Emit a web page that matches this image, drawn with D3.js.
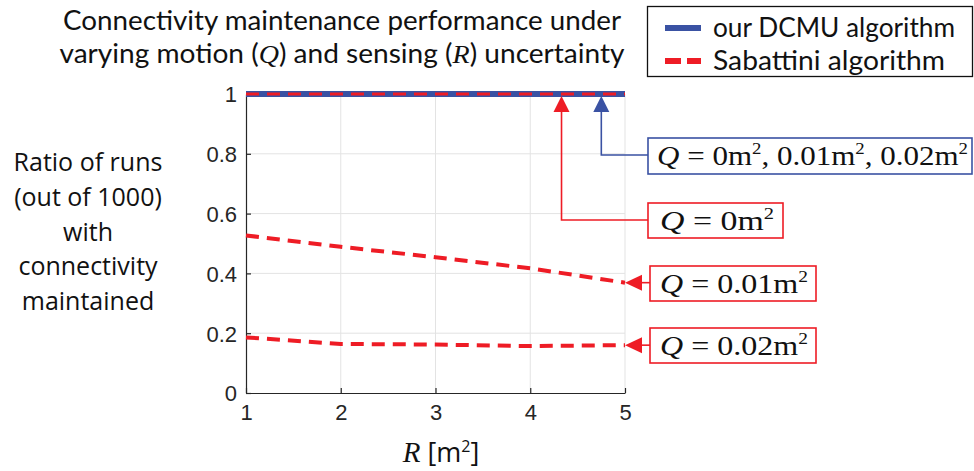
<!DOCTYPE html>
<html>
<head>
<meta charset="utf-8">
<script src="https://cdn.jsdelivr.net/npm/d3@7"></script>
<style>
  body { margin: 0; background: #fff; }
  svg { display: block; }
</style>
</head>
<body>
<svg id="chart" width="974" height="471"></svg>
<script>
// Connectivity ratio vs sensing uncertainty R, for each algorithm / Q

const R = [1, 2, 3, 4, 5];
const dcmuAllQ = [1, 1, 1, 1, 1];
const sabQ0 = [1, 1, 1, 1, 1];
const sabQ001 = [0.527, 0.489, 0.454, 0.417, 0.369];
const sabQ002 = [0.186, 0.164, 0.162, 0.157, 0.160];

const xTicks = [1, 2, 3, 4, 5];
const yTicks = [0, 0.2, 0.4, 0.6, 0.8, 1];

const titleLines = ['Connectivity maintenance performance under', 'varying motion (Q) and sensing (R) uncertainty'];
const yLabelLines = ['Ratio of runs', '(out of 1000)', 'with', 'connectivity', 'maintained'];
const legendLabels = ['our DCMU algorithm', 'Sabattini algorithm'];

const BLUE = '#3a52a3';
const RED = '#ee1c25';
const INK = '#262626';

let svg = d3.select('#chart');

// scales
let xScale = d3.scaleLinear().domain([1, 5]).range([246, 625]);
let yScale = d3.scaleLinear().domain([0, 1]).range([393, 94]);

// grid
svg.append('g')
   .selectAll('line')
   .data(xTicks.slice(1))
   .join('line')
   .attr('x1', d => xScale(d)).attr('x2', d => xScale(d))
   .attr('y1', yScale(0)).attr('y2', yScale(1))
   .attr('stroke', '#e3e3e3').attr('stroke-width', 1);

svg.append('g')
   .selectAll('line')
   .data(yTicks.slice(1))
   .join('line')
   .attr('x1', xScale(1)).attr('x2', xScale(5))
   .attr('y1', d => yScale(d)).attr('y2', d => yScale(d))
   .attr('stroke', '#e3e3e3').attr('stroke-width', 1);

// axes
let xAxis = d3.axisBottom(xScale).tickValues(xTicks).tickFormat(d => `${d}`).tickSizeInner(-5).tickSizeOuter(0).tickPadding(9);
let yAxis = d3.axisLeft(yScale).tickValues(yTicks).tickFormat(d => `${d}`).tickSizeInner(-5).tickSizeOuter(0).tickPadding(9);

let gx = svg.append('g').attr('transform', `translate(0, ${yScale(0)})`).call(xAxis);
let gy = svg.append('g').attr('transform', `translate(${xScale(1)}, 0)`).call(yAxis);

[gx, gy].forEach(g => {
  g.attr('font-size', null).attr('font-family', null);
  g.selectAll('path, line').attr('stroke', INK).attr('stroke-width', 1.2);
  g.selectAll('text').attr('fill', INK).style('font-family', '"Liberation Sans", Arial, sans-serif').style('font-size', '22px');
});
gx.selectAll('text').attr('dy', '0.82em');
gy.selectAll('text').attr('dy', '0.36em');

// lines
let line = d3.line().x((d, i) => xScale(R[i])).y(d => yScale(d));

svg.append('path').datum(dcmuAllQ).attr('d', line)
   .attr('fill', 'none').attr('stroke', BLUE).attr('stroke-width', 6);

[sabQ0, sabQ001, sabQ002].forEach(s => {
  svg.append('path').datum(s).attr('d', line)
     .attr('fill', 'none').attr('stroke', RED)
     .attr('stroke-width', s === sabQ0 ? 3 : 4)
     .attr('stroke-dasharray', '13,8');
});

// title
svg.append('g').selectAll('text')
   .data(titleLines)
   .join('text')
   .attr('x', 342).attr('y', (d, i) => 30 + i * 33)
   .attr('text-anchor', 'middle')
   .attr('textLength', (d, i) => i === 0 ? 558 : 565)
   .attr('lengthAdjust', 'spacingAndGlyphs')
   .style('font-family', 'Lato, "Open Sans", sans-serif')
   .style('font-size', '26px')
   .attr('fill', '#111')
   .each(function(d) {
     let t = d3.select(this);
     let parts = d.split(/(\(Q\)|\(R\))/);
     parts.forEach(p => {
       if (p === '(Q)' || p === '(R)') {
         t.append('tspan').text('(');
         t.append('tspan').text(p[1]).style('font-style', 'italic').style('font-family', '"Liberation Serif", serif');
         t.append('tspan').text(')');
       } else if (p.length) {
         t.append('tspan').text(p);
       }
     });
   });

// y label
svg.append('g').selectAll('text')
   .data(yLabelLines)
   .join('text')
   .attr('x', 88).attr('y', (d, i) => 171 + i * 34.8)
   .attr('text-anchor', 'middle')
   .style('font-family', '"Open Sans", Lato, sans-serif')
   .style('font-size', '25px')
   .attr('fill', '#111')
   .text(d => d);

// x label
let xl = svg.append('text')
   .attr('x', 441).attr('y', 462)
   .attr('text-anchor', 'middle')
   .attr('fill', '#111')
   .style('font-size', '27px');
xl.append('tspan').text('R').style('font-style', 'italic').style('font-family', '"Liberation Serif", serif').style('font-size', '29px');
xl.append('tspan').text(' [m').style('font-family', '"Open Sans", sans-serif');
xl.append('tspan').text('2').attr('dy', -10).style('font-size', '16px').style('font-family', '"Open Sans", sans-serif');
xl.append('tspan').text(']').attr('dy', 10).style('font-family', '"Open Sans", sans-serif');

// legend
let lg = svg.append('g');
lg.append('rect').attr('x', 647.5).attr('y', 6.5).attr('width', 325).attr('height', 70)
  .attr('fill', '#fff').attr('stroke', '#111').attr('stroke-width', 1.3);
lg.append('line').attr('x1', 665).attr('x2', 701).attr('y1', 28).attr('y2', 28)
  .attr('stroke', BLUE).attr('stroke-width', 6);
lg.append('line').attr('x1', 665).attr('x2', 701).attr('y1', 61).attr('y2', 61)
  .attr('stroke', RED).attr('stroke-width', 6).attr('stroke-dasharray', '16,6');
lg.selectAll('text')
  .data(legendLabels)
  .join('text')
  .attr('x', 713).attr('y', (d, i) => 37 + i * 33)
  .attr('textLength', (d, i) => i === 0 ? 242 : 232)
  .attr('lengthAdjust', 'spacingAndGlyphs')
  .style('font-family', 'Lato, "Open Sans", sans-serif')
  .style('font-size', '26px')
  .attr('fill', '#111')
  .text(d => d);

// annotations
function mathLabel(g, x, y, values, len) {
  let t = g.append('text').attr('x', x).attr('y', y)
    .style('font-family', '"Liberation Serif", serif').style('font-size', '28px').attr('fill', '#111');
  if (len) t.attr('textLength', len).attr('lengthAdjust', 'spacingAndGlyphs');
  t.append('tspan').text('Q').style('font-style', 'italic');
  t.append('tspan').text(' = ');
  values.forEach((v, i) => {
    let s = t.append('tspan').text((i > 0 ? ', ' : '') + v + 'm');
    if (i > 0) s.attr('dy', 11);
    t.append('tspan').text('2').attr('dy', -11).style('font-size', '17px');
  });
}

function arrowHead(g, tipX, tipY, dir, color) {
  // dir: 'up' or 'left'
  let pts = dir === 'up'
    ? [[tipX, tipY], [tipX - 8, tipY + 16], [tipX + 8, tipY + 16]]
    : [[tipX, tipY], [tipX + 17, tipY - 8], [tipX + 17, tipY + 8]];
  g.append('polygon').attr('points', pts.map(p => p.join(',')).join(' ')).attr('fill', color);
}

let ann = svg.append('g');

// blue: DCMU all Q
let bx = xScale(4.75), by = yScale(1) + 2;
arrowHead(ann, bx, by, 'up', BLUE);
ann.append('polyline').attr('points', `${bx},${by + 14} ${bx},155 648,155`)
   .attr('fill', 'none').attr('stroke', BLUE).attr('stroke-width', 1.6);
ann.append('rect').attr('x', 648).attr('y', 138).attr('width', 324).attr('height', 36)
   .attr('fill', '#fff').attr('stroke', BLUE).attr('stroke-width', 1.6);
mathLabel(ann, 657, 165, ['0', '0.01', '0.02'], 311);

// red: Q = 0
let rx = xScale(4.33), ry = yScale(sabQ0[4]) + 2;
arrowHead(ann, rx, ry, 'up', RED);
ann.append('polyline').attr('points', `${rx},${ry + 14} ${rx},220 648,220`)
   .attr('fill', 'none').attr('stroke', RED).attr('stroke-width', 1.6);
ann.append('rect').attr('x', 648).attr('y', 203).attr('width', 135).attr('height', 35)
   .attr('fill', '#fff').attr('stroke', RED).attr('stroke-width', 1.6);
mathLabel(ann, 660, 230, ['0'], 114);

// red: Q = 0.01 and 0.02
[[sabQ001, '0.01', 266], [sabQ002, '0.02', 328]].forEach(([s, q, top]) => {
  let tx = xScale(R[4]), ty = yScale(s[4]);
  arrowHead(ann, tx, ty, 'left', RED);
  ann.append('line').attr('x1', tx + 15).attr('x2', 650).attr('y1', ty).attr('y2', ty)
     .attr('stroke', RED).attr('stroke-width', 1.6);
  ann.append('rect').attr('x', 650).attr('y', top).attr('width', 166).attr('height', 35)
     .attr('fill', '#fff').attr('stroke', RED).attr('stroke-width', 1.6);
  mathLabel(ann, 660, top + 27, [q], 148);
});
</script>
</body>
</html>
